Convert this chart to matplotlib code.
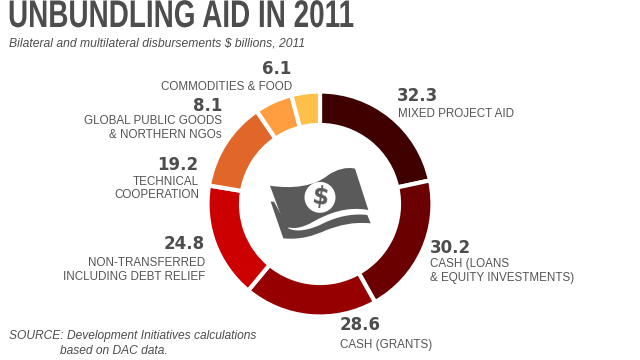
import matplotlib
matplotlib.use('Agg')
import matplotlib.pyplot as plt
import matplotlib.patheffects as pe
from matplotlib.path import Path
from matplotlib.patches import PathPatch, Circle
from matplotlib.transforms import Affine2D

values = [32.3, 30.2, 28.6, 24.8, 19.2, 8.1, 6.1]
colors = ['#3f0000', '#6b0000', '#960000', '#cc0000', '#e0662a', '#ff9e40', '#ffc04a']
value_labels = ['32.3', '30.2', '28.6', '24.8', '19.2', '8.1', '6.1']
names = ['MIXED PROJECT AID', 'CASH (LOANS\n& EQUITY INVESTMENTS)', 'CASH (GRANTS)',
         'NON-TRANSFERRED\nINCLUDING DEBT RELIEF', 'TECHNICAL\nCOOPERATION',
         'GLOBAL PUBLIC GOODS\n& NORTHERN NGOs', 'COMMODITIES & FOOD']

GREY = '#4d4d4d'
FONT = 'Liberation Sans'

fig = plt.figure(figsize=(6.4, 3.6), dpi=100)
ax = fig.add_axes([0, 0, 1, 1])

ax.pie(values, colors=colors, startangle=90, counterclock=False, radius=112.5, center=(320, 156),
       wedgeprops=dict(width=33.5, edgecolor='white', linewidth=3))
ax.set_xlim(0, 640)
ax.set_ylim(0, 360)
ax.set_aspect('equal')
ax.axis('off')

def py(y):
    return 360 - y

# squeeze a text sideways, no condensed font installed
class Squeeze(pe.AbstractPathEffect):
    def __init__(self, sx, x0):
        super().__init__()
        self.sx = sx
        self.x0 = x0
    def draw_path(self, renderer, gc, tpath, affine, rgbFace=None):
        t = affine + Affine2D().translate(-self.x0, 0).scale(self.sx, 1).translate(self.x0, 0)
        renderer.draw_path(gc, tpath, t, rgbFace)

# number x, number y, name x, name y, alignment
spots = [
    (397, 96, 398, 114, 'left', 'left'),
    (430, 248, 430, 271, 'left', 'left'),
    (340, 325, 340, 345, 'left', 'left'),
    (205, 244, 205, 270, 'right', 'right'),
    (198, 165, 199, 188.5, 'right', 'right'),
    (222, 106, 222, 128, 'right', 'right'),
    (291, 69, 292, 87, 'right', 'right'),
]
for i in range(len(values)):
    xv, yv, xn, yn, hv, hn = spots[i]
    ax.text(xv, py(yv), value_labels[i], fontsize=12, fontweight='bold', color=GREY, ha=hv, va='center',
            family='DejaVu Sans')
    ax.text(xn, py(yn), names[i], fontsize=8.4, color='#555555', ha=hn, va='center', multialignment=hn,
            family=FONT, linespacing=1.15)

ax.text(8, py(17), 'UNBUNDLING AID IN 2011', fontsize=27.7, fontweight='bold', color=GREY, va='center',
        family=FONT, path_effects=[Squeeze(0.725, 8)])
ax.text(9, py(44), 'Bilateral and multilateral disbursements \\$ billions, 2011', fontsize=8.72, style='italic',
        color=GREY, va='center', family=FONT)
ax.text(9, py(336), 'SOURCE: Development Initiatives calculations', fontsize=8.65, style='italic',
        color=GREY, va='center', family=FONT)
ax.text(60, py(351), 'based on DAC data.', fontsize=8.65, style='italic',
        color=GREY, va='center', family=FONT)

def ic(x, y):
    return (260 + x / 3, py(160 + y / 3))

C = Path.CURVE4
L = Path.LINETO
bill = [((30, 77), Path.MOVETO),
        ((100, 88), C), ((165, 78), C), ((205, 45), C),
        ((230, 28), C), ((260, 20), C), ((285, 26), C),
        ((325, 150), L),
        ((260, 138), C), ((205, 160), C), ((160, 185), C),
        ((125, 205), C), ((100, 208), C), ((75, 200), C),
        ((30, 77), Path.CLOSEPOLY)]
under = [((32, 125), Path.MOVETO),
         ((42, 125), L),
         ((85, 205), L),
         ((110, 218), C), ((150, 210), C), ((190, 190), C),
         ((235, 168), C), ((280, 160), C), ((322, 165), C),
         ((332, 190), L),
         ((280, 185), C), ((240, 195), C), ((200, 210), C),
         ((160, 228), C), ((120, 240), C), ((70, 235), C),
         ((32, 125), Path.CLOSEPOLY)]
for shape in (bill, under):
    pts = [ic(*p[0]) for p in shape]
    ax.add_patch(PathPatch(Path(pts, [p[1] for p in shape]), fc='#5a5a5a', ec='none'))
ax.add_patch(Circle(ic(180, 112), 15.5, fc='white', ec='none'))
ax.text(*ic(180, 111), '\\$', fontsize=17, fontweight='bold', color='#5a5a5a', ha='center', va='center',
        rotation=-8, family='DejaVu Sans')

fig.savefig('out.png', dpi=100)
